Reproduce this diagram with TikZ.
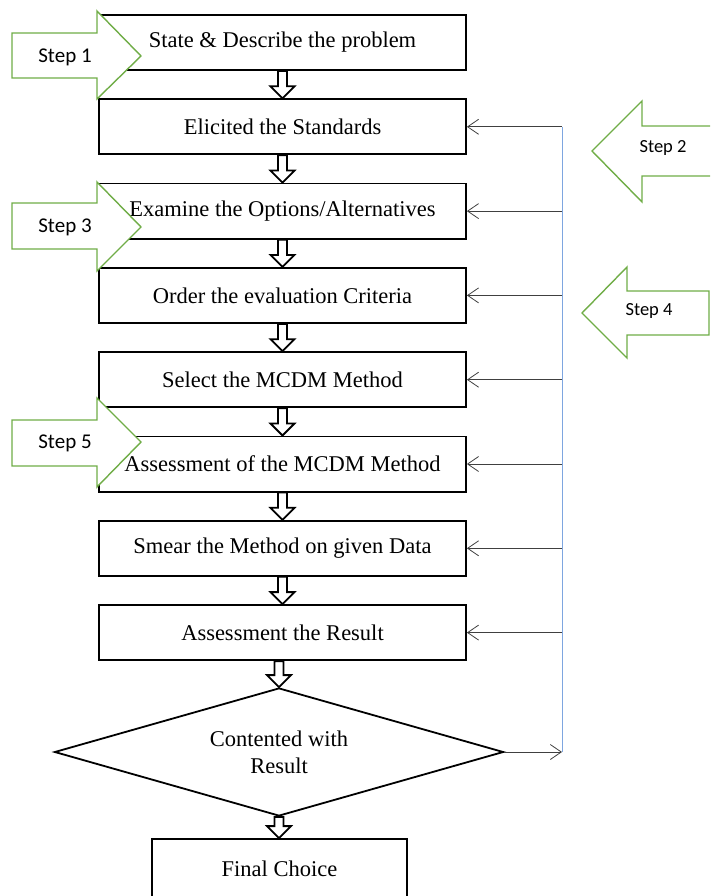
\documentclass[tikz,border=0pt]{standalone}
\usepackage{fontspec}
\setmainfont{Liberation Serif}
\newfontfamily\stepfont{Carlito}
\usepackage{xcolor}
\usetikzlibrary{arrows.meta,positioning,shapes.geometric,calc}
\definecolor{stepgreen}{HTML}{70AD47}
\definecolor{linkblue}{HTML}{7EA6E0}
\tikzset{
  stagebox/.style={draw=black, line width=1.8pt, fill=white, minimum width=367pt, minimum height=55.2pt, inner sep=0pt, align=center, font=\fontsize{22.5}{26}\selectfont},
  endbox/.style={draw=black, line width=1.8pt, minimum width=255pt, minimum height=60pt, inner sep=0pt, align=center, font=\fontsize{22.5}{26}\selectfont},
  decisionbox/.style={draw=black, line width=1.8pt, diamond, aspect=3.5, minimum width=449pt, minimum height=128pt, inner sep=0pt, align=center, font=\fontsize{22.5}{27}\selectfont},
  blockarrow/.style={draw=black, line width=1.8pt, fill=white, to path={
    let \p1=(\tikztostart), \p2=(\tikztotarget) in
    (\x1-4.5pt,\y1) -- (\x1-4.5pt,\y2+12pt) -- (\x1-12pt,\y2+12pt) -- (\x1,\y2)
    -- (\x1+12pt,\y2+12pt) -- (\x1+4.5pt,\y2+12pt) -- (\x1+4.5pt,\y1) -- cycle}},
  feedback/.style={-{Straight Barb[length=11pt,width=15pt]}, line width=0.8pt, draw=black!75},
  loopline/.style={draw=linkblue, line width=0.9pt},
  steparrow/.style={draw=stepgreen, line width=1.4pt, fill=white},
  steplabel/.style={font=\stepfont\fontsize{21}{24}\selectfont},
  smallsteplabel/.style={font=\stepfont\fontsize{18.5}{22}\selectfont}
}
\begin{document}
\begin{tikzpicture}[x=1pt, y=-1pt, node distance=27.3pt]
  \clip (0,0) rectangle (710,896);
  % main chain
  \node[stagebox] (b1) at (282.5,42.5) {State \& Describe the problem};
  \node[stagebox, below=of b1] (b2) {Elicited the Standards};
  \node[stagebox, below=of b2] (b3) {Examine the Options/Alternatives};
  \node[stagebox, below=of b3] (b4) {Order the evaluation Criteria};
  \node[stagebox, below=of b4] (b5) {Select the MCDM Method};
  \node[stagebox, below=of b5] (b6) {Assessment of the MCDM Method};
  \node[stagebox, below=of b6] (b7) {Smear the Method on given Data};
  \node[stagebox, below=of b7] (b8) {Assessment the Result};
  \node[decisionbox] (dec) at (279,752) {Contented with\\Result};
  \node[endbox] (final) at (279.5,869) {Final Choice};
  \foreach \a/\b in {b1/b2,b2/b3,b3/b4,b4/b5,b5/b6,b6/b7,b7/b8}
    \draw[blockarrow] (\a.south) to (\b.north);
  \draw[blockarrow] (b8.south -| dec.north) to (dec.north);
  \draw[blockarrow] (dec.south) to (final.north);
  % feedback loop
  \coordinate (xref) at (562,0);
  \coordinate (ltop) at (b2.east -| xref);
  \coordinate (lbot) at (dec.east -| xref);
  \draw[loopline] (ltop) -- (lbot);
  \foreach \b in {b2,b3,b4,b5,b6,b7,b8}
    \draw[feedback] (\b.east -| xref) -- (\b.east);
  \draw[feedback] (dec.east) -- (lbot);
  % step markers
  \draw[steparrow] (12,33) -- (97,33) -- (97,11) -- (141,56) -- (97,99) -- (97,78) -- (12,78) -- cycle;
  \node[steplabel] (s1) at (65,57) {Step 1};
  \draw[steparrow] (12,203) -- (97,203) -- (97,182) -- (141,227) -- (97,271) -- (97,249) -- (12,249) -- cycle;
  \node[steplabel] (s3) at (65,227) {Step 3};
  \draw[steparrow] (12,420) -- (97,420) -- (97,398) -- (141,442) -- (97,487) -- (97,466) -- (12,466) -- cycle;
  \node[steplabel] (s5) at (65,443) {Step 5};
  \draw[steparrow] (592,151) -- (642,101) -- (642,126) -- (714,126) -- (714,176) -- (642,176) -- (642,202) -- cycle;
  \node[smallsteplabel] (s2) at (663,148) {Step 2};
  \draw[steparrow] (582,313) -- (627,267) -- (627,291) -- (709,291) -- (709,335) -- (627,335) -- (627,358) -- cycle;
  \node[smallsteplabel] (s4) at (649,311) {Step 4};
\end{tikzpicture}
\end{document}
